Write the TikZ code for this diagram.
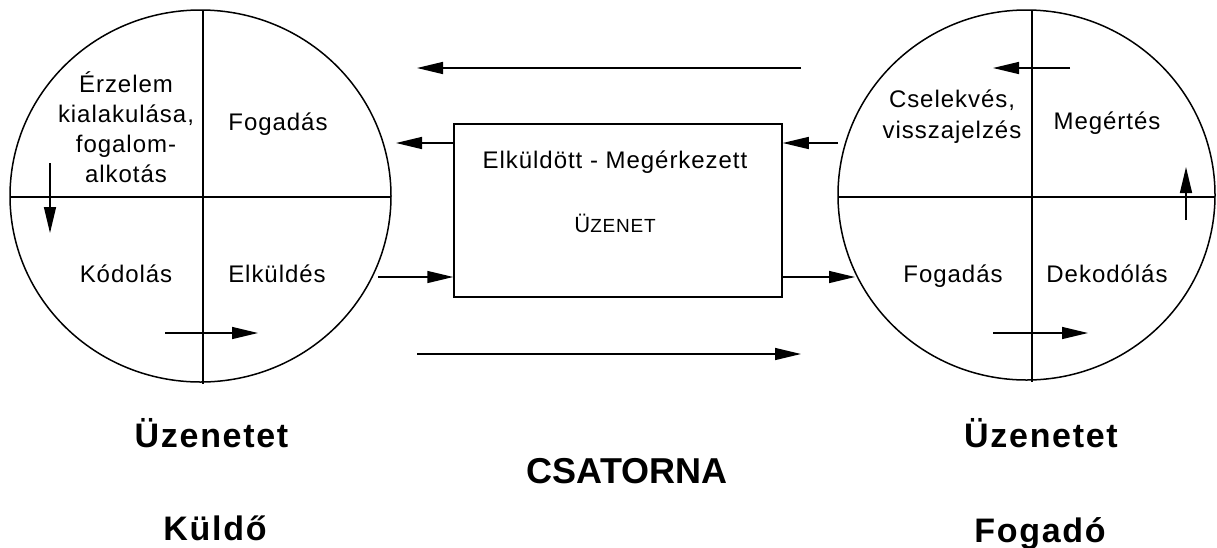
\documentclass[tikz,border=0pt]{standalone}
\usepackage{fontspec}
\setmainfont{Liberation Sans}
\newfontfamily\smallfont[LetterSpace=4]{Liberation Sans}
\newfontfamily\bigfont[LetterSpace=5]{Liberation Sans}
\usetikzlibrary{arrows.meta}

\begin{document}
\begin{tikzpicture}[x=1pt,y=-1pt,line width=1.5pt,
        txt/.style={font=\smallfont\fontsize{24}{30}\selectfont,inner sep=0pt,anchor=base,align=center},
        big txt/.style={font=\bigfont\bfseries\fontsize{34}{34}\selectfont,inner sep=0pt,anchor=base},
        arr/.style={-{Triangle[length=26pt,width=12pt]}}]
        \useasboundingbox (0,0) rectangle (1217,547);

        % sender circle
        \draw (200.5,196) ellipse [x radius=190.5,y radius=186];
        \draw (203,10)  -- (203,384);
        \draw (10,197)  -- (391,197);
        \node[txt] (erz)  at (126,182) {Érzelem\\kialakulása,\\fogalom-\\alkotás};
        \node[txt] (fogk) at (278,130) {Fogadás};
        \node[txt] (kod)  at (126,282) {Kódolás};
        \node[txt] (elk)  at (277,282) {Elküldés};

        % receiver circle
        \draw (1026.5,195) ellipse [x radius=188.5,y radius=185];
        \draw (1032,10) -- (1032,382);
        \draw (838,197) -- (1215,197);
        \node[txt,font=\smallfont\fontsize{24}{31}\selectfont] (csel) at (952,138) {Cselekvés,\\visszajelzés};
        \node[txt] (meg)  at (1107,129) {Megértés};
        \node[txt] (fogf) at (953,282)  {Fogadás};
        \node[txt] (dek)  at (1107,282) {Dekodólás};

        % message box
        \node[draw,minimum width=328pt,minimum height=173pt,inner sep=0pt] (msg) at (618,210.5) {};
        \node[txt] (elm) at (615,168) {Elküldött - Megérkezett};
        \node[txt] (uz)  at (615,232) {{\fontsize{22}{22}\selectfont Ü}{\fontsize{19}{19}\selectfont ZENET}};

        % free ends
        \coordinate (top r)  at (801,68);  \coordinate (top l)  at (417,68);
        \coordinate (bot l)  at (417,354); \coordinate (bot r)  at (801,354);
        \coordinate (back l) at (396,143); \coordinate (send l) at (378,277);
        \coordinate (back r) at (838,143); \coordinate (send r) at (855,277);
        \coordinate (kod a)  at (50,163);  \coordinate (kod b)  at (50,233);
        \coordinate (elk a)  at (165,333); \coordinate (elk b)  at (258,333);
        \coordinate (cs a)   at (1070,68); \coordinate (cs b)   at (993,68);
        \coordinate (meg a)  at (1186,220);\coordinate (meg b)  at (1186,167);
        \coordinate (dek a)  at (993,333); \coordinate (dek b)  at (1088,333);

        \draw[arr] (top r) -- (top l);
        \draw[arr] (bot l) -- (bot r);
        \draw[arr] (msg.west |- back l) -- (back l);
        \draw[arr] (send l) -- (msg.west |- send l);
        \draw[arr] (back r) -- (msg.east |- back r);
        \draw[arr] (msg.east |- send r) -- (send r);
        \foreach \s in {kod,elk,cs,meg,dek}
          \draw[arr] (\s\space a) -- (\s\space b);

        % labels below
        \node[big txt] (uzk)  at (211.5,447) {Üzenetet};
        \node[big txt] (kuld) at (215,540)   {Küldő};
        \node[big txt,font=\bfseries\fontsize{36}{36}\selectfont] (csat) at (627,483) {CSATORNA};
        \node[big txt] (uzf)  at (1041,447)  {Üzenetet};
        \node[big txt] (foga) at (1040,542)  {Fogadó};
\end{tikzpicture}
\end{document}
